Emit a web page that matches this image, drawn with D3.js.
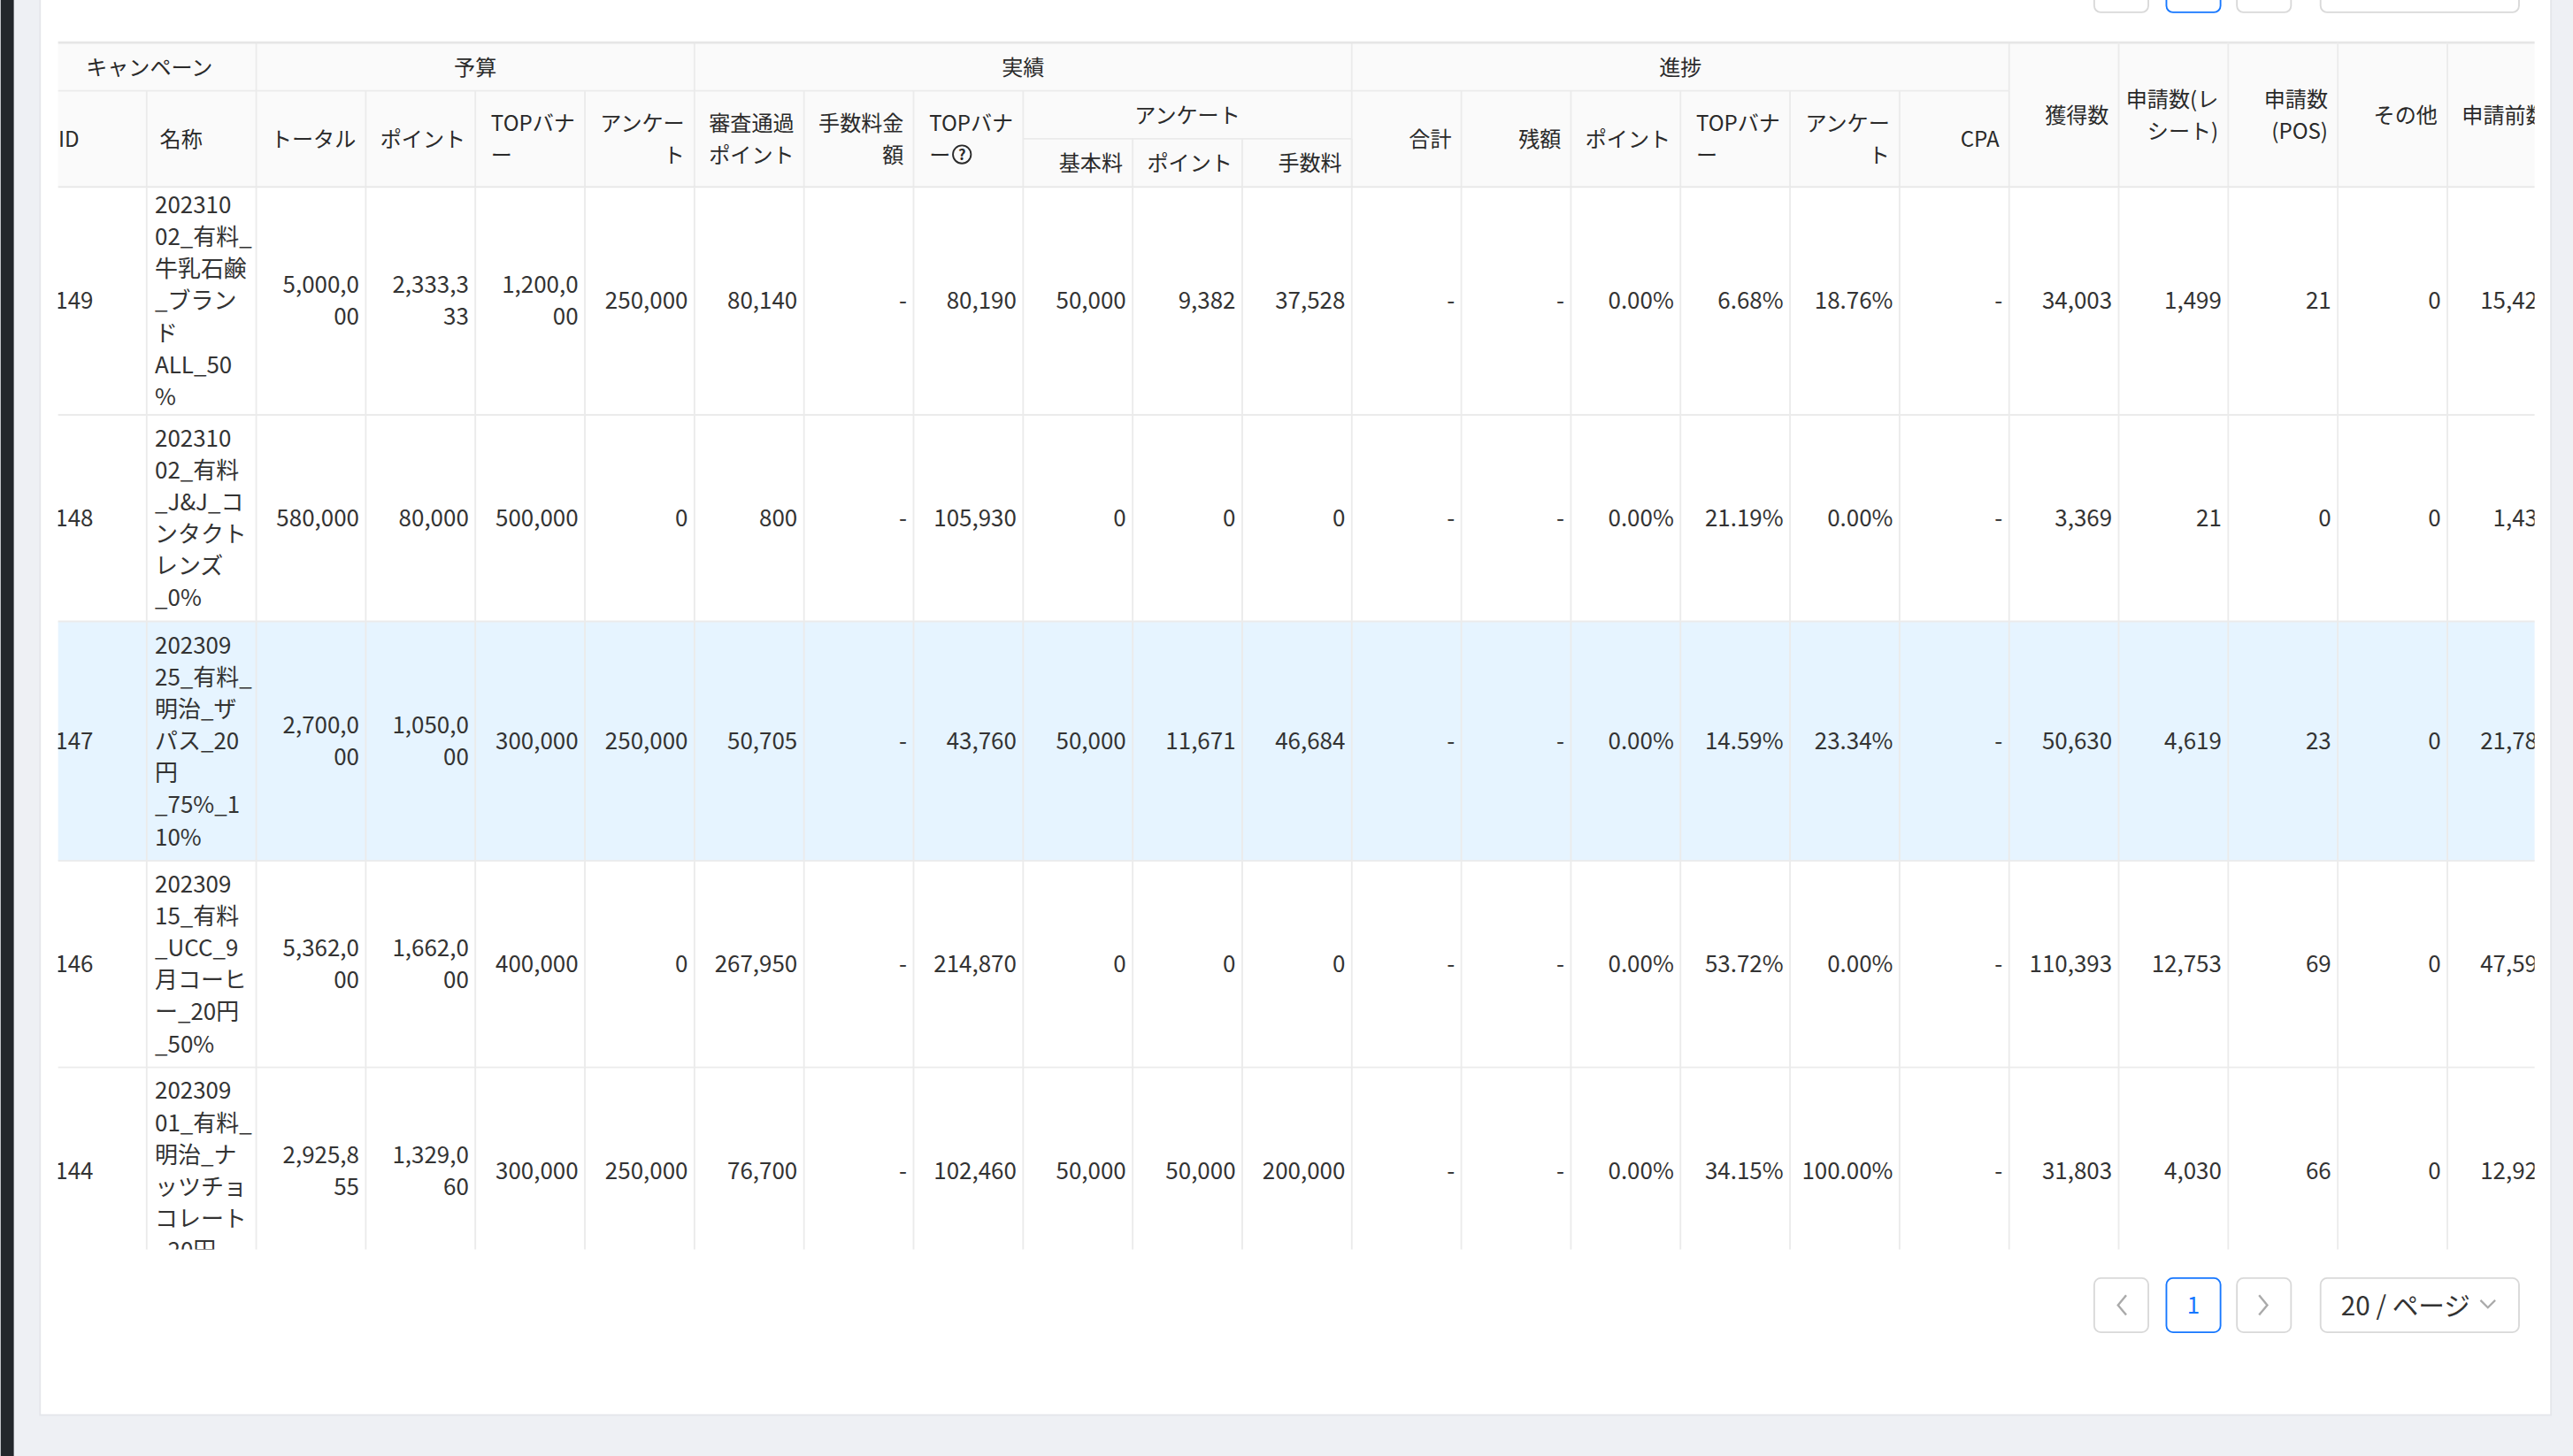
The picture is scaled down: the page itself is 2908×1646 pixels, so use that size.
<!DOCTYPE html>
<html><head><meta charset="utf-8">
<script src="https://cdn.jsdelivr.net/npm/d3@7"></script>
<style>body{margin:0;background:#eef0f4;overflow:hidden}svg{display:block}</style>
</head><body><div id="chart"></div>
<script>
// data
const ids = ["149", "148", "147", "146", "144"];
const names = [
  ["202310", "02_有料_", "牛乳石鹸", "_ブラン", "ド", "ALL_50", "%"],
  ["202310", "02_有料", "_J&J_コ", "ンタクト", "レンズ", "_0%"],
  ["202309", "25_有料_", "明治_ザ", "パス_20", "円", "_75%_1", "10%"],
  ["202309", "15_有料", "_UCC_9", "月コーヒ", "ー_20円", "_50%"],
  ["202309", "01_有料_", "明治_ナ", "ッツチョ", "コレート", "_20円", "_50%"]
];
const budgetTotal = ["5,000,000", "580,000", "2,700,000", "5,362,000", "2,925,855"];
const budgetPoint = ["2,333,333", "80,000", "1,050,000", "1,662,000", "1,329,060"];
const budgetBanner = ["1,200,000", "500,000", "300,000", "400,000", "300,000"];
const budgetSurvey = ["250,000", "0", "250,000", "0", "250,000"];
const actualPoint = ["80,140", "800", "50,705", "267,950", "76,700"];
const actualFee = ["-", "-", "-", "-", "-"];
const actualBanner = ["80,190", "105,930", "43,760", "214,870", "102,460"];
const surveyBase = ["50,000", "0", "50,000", "0", "50,000"];
const surveyPoint = ["9,382", "0", "11,671", "0", "50,000"];
const surveyFee = ["37,528", "0", "46,684", "0", "200,000"];
const progTotal = ["-", "-", "-", "-", "-"];
const progRemain = ["-", "-", "-", "-", "-"];
const progPoint = ["0.00%", "0.00%", "0.00%", "0.00%", "0.00%"];
const progBanner = ["6.68%", "21.19%", "14.59%", "53.72%", "34.15%"];
const progSurvey = ["18.76%", "0.00%", "23.34%", "0.00%", "100.00%"];
const progCpa = ["-", "-", "-", "-", "-"];
const acquired = ["34,003", "3,369", "50,630", "110,393", "31,803"];
const receiptApps = ["1,499", "21", "4,619", "12,753", "4,030"];
const posApps = ["21", "0", "23", "69", "66"];
const otherApps = ["0", "0", "0", "0", "0"];
const preApps = ["15,428", "1,436", "21,785", "47,596", "12,925"];

const groupHeaders = [
  {label: "キャンペーン", from: 0, to: 2},
  {label: "予算", from: 2, to: 6},
  {label: "実績", from: 6, to: 12},
  {label: "進捗", from: 12, to: 18}
];
// [label lines, column, start level, align, icon]
const colHeaders = [
  [["ID"], 0, 1, "left"], [["名称"], 1, 1, "left"],
  [["トータル"], 2, 1], [["ポイント"], 3, 1], [["TOPバナ", "ー"], 4, 1, "block"], [["アンケー", "ト"], 5, 1],
  [["審査通過", "ポイント"], 6, 1], [["手数料金", "額"], 7, 1], [["TOPバナ", "ー"], 8, 1, "block", true],
  [["基本料"], 9, 2], [["ポイント"], 10, 2], [["手数料"], 11, 2],
  [["合計"], 12, 1], [["残額"], 13, 1], [["ポイント"], 14, 1], [["TOPバナ", "ー"], 15, 1, "block"], [["アンケー", "ト"], 16, 1], [["CPA"], 17, 1],
  [["獲得数"], 18, 0], [["申請数(レ", "シート)"], 19, 0], [["申請数", "(POS)"], 20, 0], [["その他"], 21, 0], [["申請前数"], 22, 0]
];
const numCols = [budgetTotal, budgetPoint, budgetBanner, budgetSurvey, actualPoint, actualFee, actualBanner,
  surveyBase, surveyPoint, surveyFee, progTotal, progRemain, progPoint, progBanner, progSurvey, progCpa,
  acquired, receiptApps, posApps, otherApps, preApps];

const W = 1568, H = 888;
const svg = d3.select("#chart").append("svg")
  .attr("width", 2908).attr("height", 1646).attr("viewBox", `0 0 ${W} ${H}`)
  .style("font-family", "'Noto Sans CJK JP', 'Noto Sans', sans-serif");

svg.append("rect").attr("width", W).attr("height", H).attr("fill", "#eef0f4");
svg.append("rect").attr("width", 8).attr("height", H).attr("fill", "#23272b");
svg.append("rect").attr("x", 24).attr("y", -4).attr("width", 1531).attr("height", 867).attr("fill", "#fff")
  .attr("stroke", "#e4e6ea");

// column / row scales
const x = d3.scaleLinear().domain([0, 23]).range([22.2, 22.2 + 23 * 66.8]);
const headY = d3.scaleLinear().domain([0, 3]).range([26, 114]);
const rowEdges = [114, 253, 379, 525, 651, 800];
const y = d3.scaleOrdinal().domain(d3.range(5)).range(rowEdges.slice(0, 5));

const defs = svg.append("defs");
defs.append("clipPath").attr("id", "clip").append("rect").attr("x", 35).attr("y", 0).attr("width", 1510).attr("height", 762);
const g = svg.append("g").attr("clip-path", "url(#clip)");

const line = "#ebebeb";
const headFill = "#2a2a2a";
g.append("rect").attr("x", 0).attr("y", headY(0)).attr("width", W).attr("height", headY(3) - headY(0)).attr("fill", "#fafafa");
g.append("rect").attr("x", 0).attr("y", y(2)).attr("width", W).attr("height", rowEdges[3] - rowEdges[2]).attr("fill", "#e6f4ff");

groupHeaders.forEach(d => {
  const first = d.label === "キャンペーン";
  g.append("text").attr("x", first ? 52 : (x(d.from) + x(d.to)) / 2).attr("y", (headY(0) + headY(1)) / 2 + 5)
    .attr("text-anchor", first ? "start" : "middle").attr("font-size", 13).attr("fill", headFill).text(d.label);
  g.append("line").attr("x1", x(d.to)).attr("x2", x(d.to)).attr("y1", headY(0)).attr("y2", headY(1)).attr("stroke", line);
});
g.append("line").attr("x1", 0).attr("x2", x(18)).attr("y1", headY(1)).attr("y2", headY(1)).attr("stroke", line);
g.append("text").attr("x", (x(9) + x(12)) / 2).attr("y", (headY(1) + headY(2)) / 2 + 5).attr("text-anchor", "middle")
  .attr("font-size", 13).attr("fill", headFill).text("アンケート");
g.append("line").attr("x1", x(9)).attr("x2", x(12)).attr("y1", headY(2)).attr("y2", headY(2)).attr("stroke", line);
g.append("line").attr("x1", 0).attr("x2", W).attr("y1", headY(0)).attr("y2", headY(0)).attr("stroke", "#e6e6e6").attr("stroke-width", 1.5);

colHeaders.forEach(([lines, c, lvl, align, icon]) => {
  const top = headY(lvl), bot = headY(3), mid = (top + bot) / 2;
  const ly = i => mid + 5 + (i - (lines.length - 1) / 2) * 19.5;
  if (align === "left" || align === "block") {
    const t = g.append("text").attr("font-size", 13).attr("fill", headFill);
    lines.forEach((l, i) => t.append("tspan").attr("x", 0).attr("y", ly(i)).text(l));
    const bw = t.node().getBBox().width;
    const tx = align === "left" ? x(c) + 8 + (c === 0 ? 5 : 0) : x(c + 1) - 6 - bw;
    t.attr("transform", `translate(${tx},0)`);
    if (icon) {
      const ix = tx + 20, iy = mid + 9.5;
      g.append("circle").attr("cx", ix).attr("cy", iy).attr("r", 5.5).attr("fill", "none").attr("stroke", headFill).attr("stroke-width", 1);
      g.append("text").attr("x", ix).attr("y", iy + 3.3).attr("text-anchor", "middle").attr("font-size", 9).attr("font-weight", 700).attr("fill", headFill).text("?");
    }
  } else {
    const t = g.append("text").attr("font-size", 13).attr("fill", headFill).attr("text-anchor", "end");
    lines.forEach((l, i) => t.append("tspan").attr("x", x(c + 1) - 6).attr("y", ly(i)).text(l));
  }
  g.append("line").attr("x1", x(c + 1)).attr("x2", x(c + 1)).attr("y1", top).attr("y2", bot).attr("stroke", line);
});
g.append("line").attr("x1", x(12)).attr("x2", x(12)).attr("y1", headY(1)).attr("y2", headY(3)).attr("stroke", line);
g.append("line").attr("x1", 0).attr("x2", W).attr("y1", headY(3)).attr("y2", headY(3)).attr("stroke", "#e6e6e6");

function wrapNum(s) { const out = []; for (let i = 0; i < s.length; i += 7) out.push(s.slice(i, i + 7)); return out; }

// body
ids.forEach((id, r) => {
  const top = y(r), bot = rowEdges[r + 1];
  const mid = r === 4 ? top + 63 : (top + bot) / 2;
  const row = g.append("g");
  const cell = (lines, c, left) => {
    const t = row.append("text").attr("font-size", 14).attr("fill", "#333").attr("text-anchor", left ? "start" : "end");
    lines.forEach((l, i) => t.append("tspan").attr("x", left ? x(c) + 5 + (c === 0 ? 6 : 0) : x(c + 1) - 4)
      .attr("y", mid + 5 + (i - (lines.length - 1) / 2) * 19.5).text(l));
  };
  cell([id], 0, true);
  const nm = names[r];
  const t = row.append("text").attr("font-size", 14).attr("fill", "#333");
  const nmid = r === 4 ? top + 63 + 19.5 * 0.5 : mid;
  nm.forEach((l, i) => t.append("tspan").attr("x", x(1) + 5).attr("y", nmid + 5 + (i - (nm.length - 1) / 2) * 19.5 - (r === 4 ? 0 : 0)).text(l));
  numCols.forEach((col, k) => cell(wrapNum(col[r]), k + 2, false));
  d3.range(1, 23).forEach(c => row.append("line").attr("x1", x(c)).attr("x2", x(c)).attr("y1", top).attr("y2", bot).attr("stroke", line));
  row.append("line").attr("x1", 0).attr("x2", W).attr("y1", bot).attr("y2", bot).attr("stroke", line);
});

// pagination
function pager(py) {
  const p = svg.append("g");
  [[1276, "<", false], [1320, "1", true], [1363, ">", false]].forEach(([bx, s, act]) => {
    p.append("rect").attr("x", bx + 0.5).attr("y", py + 0.5).attr("width", 33).attr("height", 33).attr("rx", 4)
      .attr("fill", "#fff").attr("stroke", act ? "#1677ff" : "#d9d9d9");
    if (s === "1") p.append("text").attr("x", bx + 17).attr("y", py + 22).attr("text-anchor", "middle").attr("font-size", 14).attr("fill", "#1677ff").text(s);
    else p.append("path").attr("d", s === "<" ? `M${bx + 20},${py + 11}l-5,6l5,6` : `M${bx + 14},${py + 11}l5,6l-5,6`)
      .attr("fill", "none").attr("stroke", "#aaa").attr("stroke-width", 1.3);
  });
  p.append("rect").attr("x", 1414.5).attr("y", py + 0.5).attr("width", 121).attr("height", 33).attr("rx", 4).attr("fill", "#fff").attr("stroke", "#d9d9d9");
  if (py > 0) {
    p.append("text").attr("x", 1427).attr("y", py + 23).attr("font-size", 16).attr("fill", "#333").text("20 / ページ");
    p.append("path").attr("d", `M${1512},${py + 14}l4.5,4.5l4.5,-4.5`).attr("fill", "none").attr("stroke", "#aaa").attr("stroke-width", 1.2);
  }
}
pager(-26);
pager(779);
</script></body></html>
